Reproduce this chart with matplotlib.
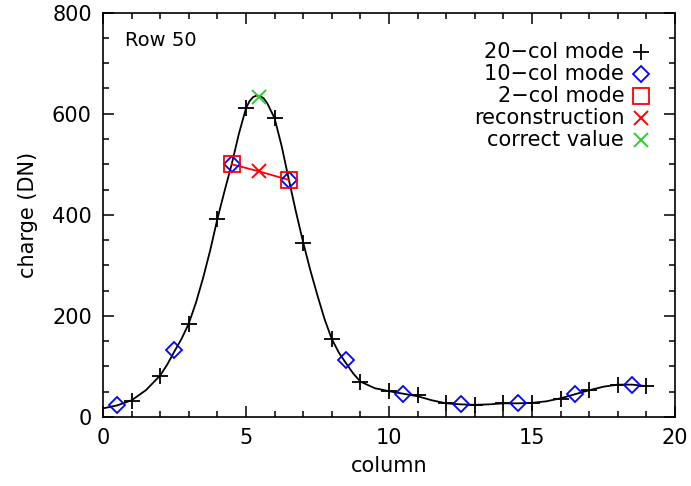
import numpy as np
from matplotlib import pyplot as plt
from matplotlib.ticker import MultipleLocator

# smooth profile
curve_x = [0, 0.5, 1, 1.5, 2, 2.25, 2.5, 2.75, 3, 3.25, 3.5, 3.75, 4, 4.25, 4.5,
           4.75, 5, 5.125, 5.25, 5.375, 5.5, 5.625, 5.75, 6, 6.25, 6.5, 6.75, 7,
           7.25, 7.5, 7.75, 8, 8.25, 8.5, 8.75, 9, 9.5, 10, 10.5, 11, 11.5, 12,
           12.5, 13, 13.5, 14, 14.5, 15, 15.5, 16, 16.5, 17, 17.5, 18, 18.5, 19]
curve_y = [17, 23, 33, 53, 82, 104, 130, 155, 185, 226, 275, 330, 392, 447, 500,
           560, 611, 625, 633, 636, 635, 630, 620, 591, 535, 469, 405, 345,
           290, 240, 193, 154, 127, 106, 86, 70, 57, 51, 46, 41, 33, 27,
           25, 24, 25, 27, 27, 28, 31, 37, 45, 53, 60, 64, 64, 61]

# 20-col mode samples
col20_x = list(range(1, 20))
col20_y = [31, 82, 183, 392, 611, 591, 345, 154, 69, 52, 43, 27, 23, 27, 27,
           36, 53, 64, 61]

# 10-col mode samples
col10_x = [0.5, 2.5, 4.5, 6.5, 8.5, 10.5, 12.5, 14.5, 16.5, 18.5]
col10_y = [23, 133, 500, 469, 112, 46, 25, 27, 46, 64]

# 2-col mode + reconstruction
col2_x = [4.5, 6.5]
col2_y = [500, 469]
recon_x, recon_y = 5.45, 486
correct_x, correct_y = 5.45, 634

GREEN = '#2ecc2e'

plt.rcParams['font.family'] = 'DejaVu Sans'
fig = plt.figure(figsize=(6.91, 4.86), dpi=100)
ax = fig.add_axes([0.149, 0.142, 0.828, 0.832])

ax.plot(curve_x, curve_y, color='black', lw=1.3)
ax.plot([col2_x[0], recon_x, col2_x[1]], [col2_y[0], recon_y, col2_y[1]],
        color='red', lw=1.3)
ax.plot(col20_x, col20_y, ls='none', marker='+', ms=12, mew=1.3, color='black')
ax.plot(col10_x, col10_y, ls='none', marker='D', ms=8, mew=1.3,
        mfc='none', mec='blue')
ax.plot(col2_x, col2_y, ls='none', marker='s', ms=11, mew=1.3,
        mfc='none', mec='red')
ax.plot([recon_x], [recon_y], ls='none', marker='x', ms=10, mew=1.4, color='red')
ax.plot([correct_x], [correct_y], ls='none', marker='x', ms=10, mew=1.4,
        color=GREEN)

ax.set_xlim(0, 20)
ax.set_ylim(0, 800)
ax.xaxis.set_major_locator(MultipleLocator(5))
ax.xaxis.set_minor_locator(MultipleLocator(1))
ax.yaxis.set_major_locator(MultipleLocator(200))
ax.yaxis.set_minor_locator(MultipleLocator(50))
ax.tick_params(which='both', direction='in', top=True, right=True,
               labelsize=15, width=1.1, pad=8)
ax.tick_params(which='major', length=8)
ax.tick_params(which='minor', length=4)
for sp in ax.spines.values():
    sp.set_linewidth(1.2)

ax.set_xlabel('column', fontsize=15, labelpad=6)
ax.set_ylabel('charge (DN)', fontsize=15, labelpad=10)

ax.text(0.038, 0.93, 'Row 50', transform=ax.transAxes, fontsize=14,
        va='center', ha='left')

legend_rows = [
    ('20\u2212col mode', dict(marker='+', ms=12, mew=1.3, color='black')),
    ('10\u2212col mode', dict(marker='D', ms=8, mew=1.3, mfc='none', mec='blue')),
    ('2\u2212col mode', dict(marker='s', ms=11, mew=1.3, mfc='none', mec='red')),
    ('reconstruction', dict(marker='x', ms=10, mew=1.4, color='red')),
    ('correct value', dict(marker='x', ms=10, mew=1.4, color=GREEN)),
]
y0 = 0.9035
for i, (label, style) in enumerate(legend_rows):
    yy = y0 - i * 0.0545
    ax.text(0.911, yy, label, transform=ax.transAxes, fontsize=15,
            ha='right', va='center')
    ax.plot([0.9406], [yy], transform=ax.transAxes, ls='none', **style)

fig.savefig('out.png', dpi=100)
